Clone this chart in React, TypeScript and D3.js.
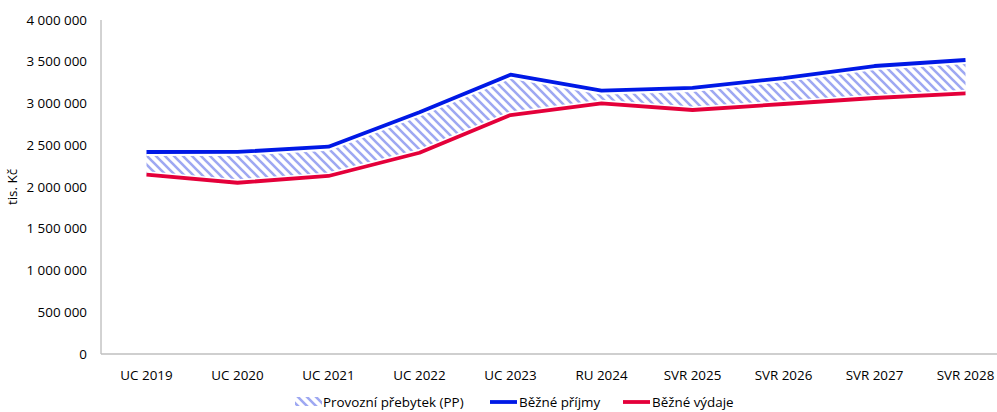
import React from "react";
import * as d3 from "d3";

const categories = ["UC 2019", "UC 2020", "UC 2021", "UC 2022", "UC 2023", "RU 2024", "SVR 2025", "SVR 2026", "SVR 2027", "SVR 2028"];
const prijmy = [2419000, 2420000, 2483000, 2895000, 3345000, 3153000, 3186000, 3305000, 3449000, 3521000];
const vydaje = [2147000, 2051000, 2132000, 2410000, 2862000, 3002000, 2922000, 2994000, 3066000, 3122000];
const yTicks = [0, 500000, 1000000, 1500000, 2000000, 2500000, 3000000, 3500000, 4000000];
const legendLabels = ["Provozní přebytek (PP)", "Běžné příjmy", "Běžné výdaje"];

const W = 997;
const H = 412;
const left = 101;
const top = 20;
const bottom = 354;
const plotRight = 1011;

const fmt = (v: number) => d3.format(",")(v).replace(/,/g, "\u00a0");

export default function App() {
  const x = d3.scaleBand<string>().domain(categories).range([left, plotRight]).paddingInner(0).paddingOuter(0);
  const cx = (c: string) => (x(c) as number) + x.bandwidth() / 2;
  const y = d3.scaleLinear().domain([0, 4000000]).range([bottom, top]);
  const font = "'Open Sans', 'Liberation Sans', Arial, sans-serif";
  const fs = 13.4;

  const idx = categories.map((_, i) => i);
  const area = d3
    .area<number>()
    .x((i) => cx(categories[i]))
    .y0((i) => y(vydaje[i]))
    .y1((i) => y(prijmy[i]));
  const lineP = d3.line<number>().x((i) => cx(categories[i])).y((i) => y(prijmy[i]));
  const lineV = d3.line<number>().x((i) => cx(categories[i])).y((i) => y(vydaje[i]));

  const blue = "#0019e6";
  const red = "#e4003a";
  const hatch = "#9ea8f2";

  const legendY = 402;
  const legend = [
    { x: 295, tx: 323, label: legendLabels[0], kind: "hatch" },
    { x: 490, tx: 519, label: legendLabels[1], kind: blue },
    { x: 623, tx: 652, label: legendLabels[2], kind: red },
  ];

  return (
    <svg width={W} height={H} style={{ position: "absolute", left: 0, top: 0, background: "#fff" }}>
      <defs>
        <pattern id="hatch" patternUnits="userSpaceOnUse" width={9} height={9}>
          <rect width={9} height={9} fill="#fff" />
          <path d="M-2.25,6.75 L2.25,11.25 M0,0 L9,9 M6.75,-2.25 L11.25,2.25" stroke={hatch} strokeWidth={2.6} />
        </pattern>
      </defs>

      <path d={area(idx) || ""} fill="url(#hatch)" />
      <path d={lineP(idx) || ""} fill="none" stroke="#fff" strokeWidth={8} />
      <path d={lineV(idx) || ""} fill="none" stroke="#fff" strokeWidth={7} />
      <path d={lineP(idx) || ""} fill="none" stroke={blue} strokeWidth={3.8} strokeLinejoin="round" />
      <path d={lineV(idx) || ""} fill="none" stroke={red} strokeWidth={3.8} strokeLinejoin="round" />

      <line x1={left} x2={left} y1={top} y2={bottom} stroke="#a6a6a6" strokeWidth={1} />
      <line x1={left} x2={W} y1={bottom} y2={bottom} stroke="#bfbfbf" strokeWidth={1.5} />

      {yTicks.map((t) => (
        <text key={t} x={87} y={y(t)} dy="0.35em" textAnchor="end" fontFamily={font} fontSize={fs} fill="#000">
          {fmt(t)}
        </text>
      ))}
      {categories.map((c) => (
        <text key={c} x={cx(c)} y={380} textAnchor="middle" fontFamily={font} fontSize={fs} fill="#000">
          {c}
        </text>
      ))}
      <text transform={`translate(17,${(top + bottom) / 2}) rotate(-90)`} textAnchor="middle" fontFamily={font} fontSize={fs} fill="#000">
        tis. Kč
      </text>

      {legend.map((l) =>
        <g key={l.label}>
          {l.kind === "hatch" ? (
            <rect x={l.x} y={legendY - 5} width={27} height={9} fill="url(#hatch)" />
          ) : (
            <line x1={l.x} x2={l.x + 27} y1={legendY} y2={legendY} stroke={l.kind} strokeWidth={3.8} />
          )}
          <text x={l.tx} y={legendY} dy="0.35em" fontFamily={font} fontSize={fs} fill="#000">
            {l.label}
          </text>
        </g>
      )}
    </svg>
  );
}
